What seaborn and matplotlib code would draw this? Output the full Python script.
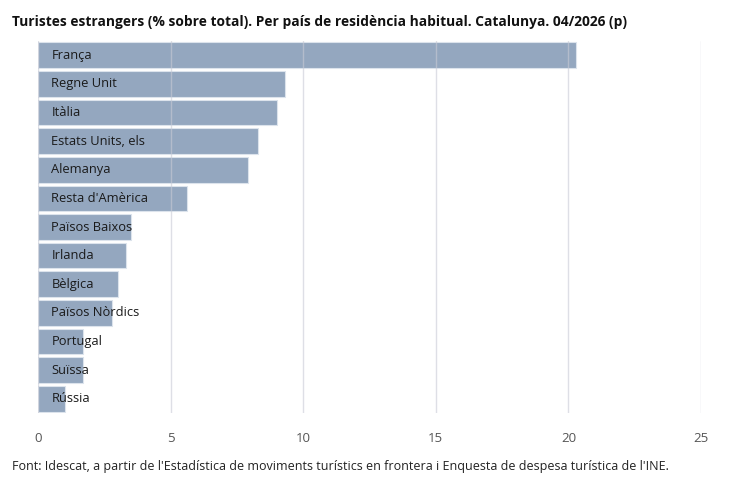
import matplotlib
matplotlib.use("Agg")
import matplotlib.pyplot as plt
import seaborn as sns
import pandas as pd

countries = ["França", "Regne Unit", "Itàlia", "Estats Units, els", "Alemanya",
             "Resta d'Amèrica", "Països Baixos", "Irlanda", "Bèlgica",
             "Països Nòrdics", "Portugal", "Suïssa", "Rússia"]
values = [20.3, 9.3, 9.0, 8.3, 7.9, 5.6, 3.5, 3.3, 3.0, 2.8, 1.7, 1.7, 1.0]
xticks = [0, 5, 10, 15, 20, 25]

title = "Turistes estrangers (% sobre total). Per país de residència habitual. Catalunya. 04/2026 (p)"
source = "Font: Idescat, a partir de l'Estadística de moviments turístics en frontera i Enquesta de despesa turística de l'INE."

sns.set_theme(style="white")
plt.rcParams['font.family'] = ['Open Sans', 'DejaVu Sans']

df = pd.DataFrame({"country": countries, "value": values})

fig = plt.figure(figsize=(7.5, 4.98), dpi=100)
ax = fig.add_axes([38/750, 1 - 413/498, (701 - 38)/750, (413 - 41)/498])

sns.barplot(data=df, x="value", y="country", ax=ax, color="#94a7bf",
            saturation=1, width=0.9, edgecolor="#dce3ec", linewidth=0.8)

ax.set_xlim(0, 25)
ax.set_ylim(12.5, -0.5)
ax.set_xticks(xticks)
ax.set_xticklabels([str(t) for t in xticks], fontsize=9.5, color="#555555")
ax.tick_params(axis="x", length=0, pad=14)
ax.set_yticks([])
ax.set_xlabel("")
ax.set_ylabel("")
for s in ax.spines.values():
    s.set_visible(False)

for t in xticks:
    ax.axvline(t, color="#c9cbd6", lw=1, alpha=0.6, zorder=5)

for i, name in enumerate(countries):
    ax.text(0.5, i, name, va="center", ha="left", fontsize=9.3, color="#1a1a1a", zorder=6)

fig.text(12/750, 1 - 22/498, title, fontsize=9.9, fontweight="bold", color="#111111",
         va="center", ha="left")
fig.text(12/750, 1 - 466/498, source, fontsize=9.0, color="#222222", va="center", ha="left")

fig.savefig("out.png", dpi=100)
